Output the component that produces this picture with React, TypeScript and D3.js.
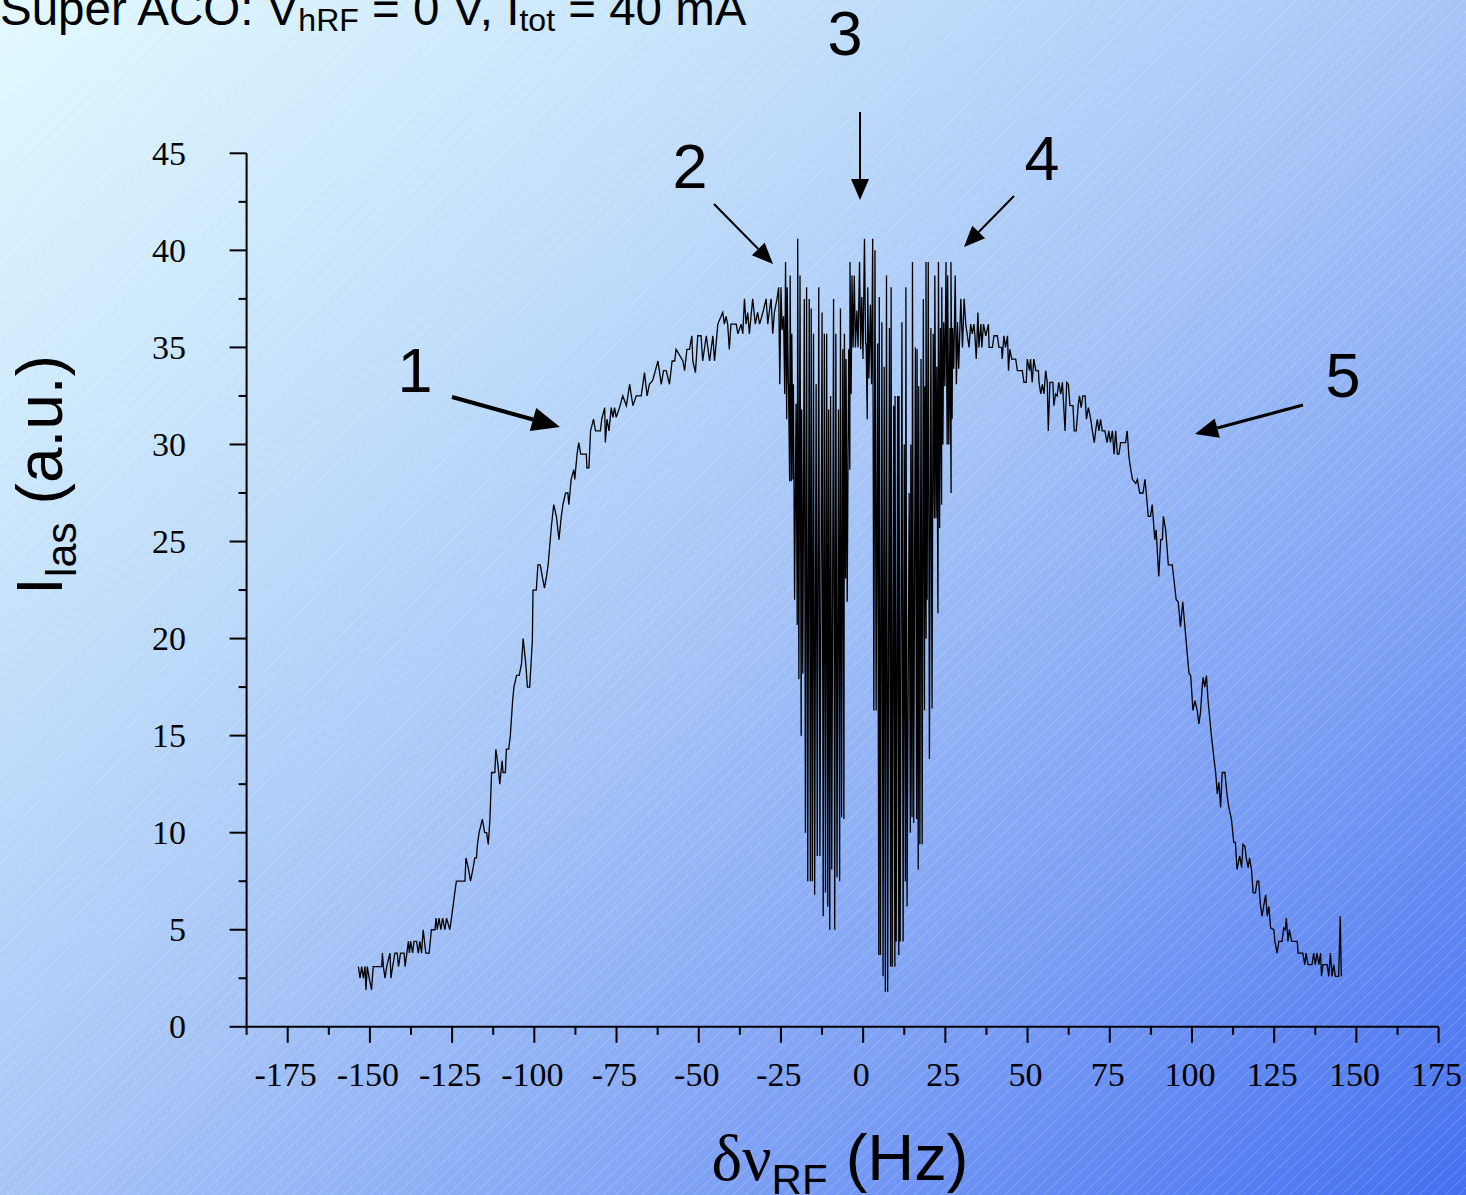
import React from 'react';
import * as d3 from 'd3';

const W = 1466;
const H = 1195;

// Axis ticks
const xTickValues = [-175, -150, -125, -100, -75, -50, -25, 0, 25, 50, 75, 100, 125, 150, 175];
const yTickValues = [0, 5, 10, 15, 20, 25, 30, 35, 40, 45];

// Left wing of the laser intensity curve: [delta nu (Hz), I_las (a.u.)]
const leftWing: [number, number][] = [
  [-153.5, 3.1], [-153.0, 2.5], [-152.5, 3.1], [-152.0, 2.5], [-151.5, 3.1], [-151.2, 1.9], [-150.8, 3.1],
  [-150.2, 2.5], [-149.5, 1.9], [-149.0, 3.1], [-146.4, 3.1], [-146.2, 3.8], [-145.9, 3.1], [-145.4, 2.5],
  [-144.9, 3.1], [-143.9, 3.8], [-143.6, 2.5], [-143.1, 3.1], [-142.4, 3.8], [-141.7, 3.8], [-141.3, 3.1],
  [-140.7, 3.8], [-139.6, 3.8], [-139.3, 3.1], [-138.3, 4.4], [-138.0, 3.8], [-137.6, 4.4], [-137.0, 3.8],
  [-136.6, 4.4], [-135.8, 4.4], [-135.3, 3.8], [-134.8, 4.4], [-134.3, 3.8], [-133.8, 5.0], [-133.0, 3.8],
  [-132.0, 3.8], [-131.3, 5.0], [-130.2, 5.0], [-129.9, 5.6], [-129.5, 5.0], [-129.0, 5.6], [-128.4, 5.0],
  [-127.9, 5.6], [-127.2, 5.0], [-126.7, 5.6], [-125.7, 5.0], [-125.2, 5.6], [-124.2, 6.9], [-123.7, 7.5],
  [-122.4, 7.5], [-121.1, 7.5], [-120.8, 8.7], [-120.1, 8.2], [-119.4, 7.5], [-118.6, 8.2], [-118.1, 8.7],
  [-117.6, 8.7], [-117.3, 9.4], [-116.8, 10.0], [-115.8, 10.7], [-115.1, 10.0], [-114.5, 10.0], [-114.0, 9.4],
  [-113.5, 10.7], [-113.0, 13.1], [-112.0, 13.1], [-111.7, 14.3], [-111.0, 13.4], [-110.5, 12.5], [-109.8, 13.7],
  [-109.5, 13.1], [-108.8, 13.1], [-108.5, 14.3], [-107.8, 14.3], [-107.3, 15.0], [-106.6, 16.8], [-106.2, 17.5],
  [-105.4, 18.1], [-104.6, 18.1], [-103.9, 18.7], [-103.4, 20.0], [-102.6, 18.7], [-102.1, 17.5], [-101.4, 17.5],
  [-100.6, 19.9], [-100.4, 22.5], [-99.4, 22.5], [-98.9, 23.8], [-98.2, 23.8], [-97.6, 23.2], [-96.9, 22.6],
  [-96.3, 23.2], [-95.8, 23.8], [-94.8, 25.8], [-94.1, 26.9], [-93.3, 26.3], [-92.5, 25.1], [-91.8, 26.3],
  [-91.3, 26.9], [-90.5, 27.5], [-89.8, 27.5], [-89.5, 26.9], [-88.8, 28.2], [-88.0, 28.7], [-87.7, 28.2],
  [-87.0, 29.5], [-86.5, 30.1], [-85.9, 29.5], [-84.2, 29.5], [-84.0, 28.8], [-83.4, 28.8], [-82.9, 30.7],
  [-82.0, 31.3], [-81.4, 30.7], [-79.9, 30.7], [-79.5, 31.3], [-78.6, 31.9], [-78.4, 30.1], [-77.9, 31.3],
  [-77.3, 30.7], [-76.6, 31.9], [-76.1, 31.4], [-75.6, 31.9], [-75.1, 31.4], [-74.1, 31.9], [-73.1, 32.5],
  [-72.0, 32.0], [-71.0, 33.1], [-70.5, 32.5], [-70.0, 32.0], [-69.0, 32.5], [-67.5, 32.5], [-67.0, 33.1],
  [-66.5, 33.7], [-65.7, 32.5], [-65.0, 33.1], [-64.0, 33.3], [-62.4, 34.3], [-61.4, 33.1], [-60.7, 33.8],
  [-59.9, 33.8], [-58.9, 33.1], [-58.1, 34.3], [-57.3, 34.3], [-56.9, 34.9], [-54.8, 34.3], [-54.3, 33.8],
  [-53.6, 34.9], [-52.8, 34.9], [-52.1, 35.6], [-51.8, 34.3], [-51.0, 33.7], [-50.3, 35.6], [-49.3, 35.6],
  [-48.8, 34.3], [-47.7, 35.6], [-46.7, 34.3], [-45.7, 35.6], [-45.2, 34.3], [-44.5, 35.6], [-44.2, 36.2],
  [-42.7, 36.8], [-42.2, 36.2], [-41.7, 36.6], [-41.2, 36.2], [-40.7, 34.9], [-40.2, 36.2], [-38.6, 36.2],
  [-38.1, 35.7], [-37.1, 36.2], [-36.6, 35.7], [-36.1, 37.5], [-35.6, 36.2], [-35.1, 36.8], [-34.6, 35.7],
  [-33.6, 37.5], [-32.8, 36.2], [-32.1, 36.8], [-31.5, 36.2], [-30.5, 36.8], [-29.5, 37.5], [-29.0, 36.2],
  [-28.5, 36.9], [-28.0, 37.5], [-27.5, 35.7], [-27.0, 36.8], [-26.2, 37.5],
];

// Oscillating region, left part: [delta nu, peak, trough]
const leftBurst: [number, number, number][] = [
  [-25.7, 38.1, 33.1], [-25.0, 38.1, 35.9], [-24.2, 36.6, 32.6], [-23.6, 39.4, 31.3], [-23.1, 38.1, 33.1],
  [-22.7, 33.1, 28.1], [-22.2, 38.7, 28.1], [-21.7, 35.7, 28.2], [-21.2, 33.1, 22.0], [-20.4, 32.1, 20.7],
  [-19.9, 40.6, 17.9], [-19.2, 38.7, 15.0], [-18.7, 31.8, 18.2], [-17.9, 37.5, 10.0], [-17.2, 38.1, 7.5],
  [-16.4, 37.5, 7.5], [-15.8, 37.0, 7.5], [-15.1, 35.7, 6.8], [-14.3, 33.1, 8.8], [-13.5, 38.1, 8.8],
  [-12.5, 36.8, 5.7], [-11.8, 35.7, 6.9], [-11.1, 35.7, 6.2], [-10.5, 31.8, 5.0], [-9.9, 32.5, 8.1],
  [-9.0, 37.5, 5.0], [-8.3, 35.7, 7.7], [-7.5, 31.8, 7.5], [-6.9, 37.0, 10.8], [-6.2, 34.9, 10.7],
  [-5.7, 35.7, 23.1], [-5.2, 34.4, 21.9], [-4.4, 34.9, 28.7], [-4.0, 39.4, 32.6], [-3.4, 38.7, 35.0],
];

// Oscillating region, centre and right part: [delta nu, peak, trough]
const rightBurst: [number, number, number][] = [
  [-2.7, 38.7, 35.0], [-1.9, 36.9, 35.0], [-1.1, 39.4, 34.9], [-0.4, 37.6, 34.4], [0.4, 40.6, 35.2],
  [0.9, 35.2, 31.3], [1.4, 38.1, 33.4], [2.2, 37.2, 33.1], [2.9, 40.6, 16.3], [3.6, 40.0, 16.3],
  [4.4, 35.2, 3.7], [4.9, 37.6, 3.7], [5.7, 36.3, 2.6], [6.4, 34.0, 1.8], [7.1, 38.7, 1.8],
  [8.0, 36.0, 3.1], [8.5, 38.1, 3.1], [9.3, 32.0, 3.1], [9.7, 32.5, 4.4], [10.5, 32.5, 3.7],
  [10.9, 32.5, 4.4], [11.8, 36.3, 4.4], [12.5, 30.0, 7.5], [13.0, 38.1, 6.2], [14.0, 27.5, 10.0],
  [14.5, 30.0, 10.8], [15.0, 39.4, 10.5], [15.9, 35.0, 10.7], [16.4, 34.9, 8.1], [16.9, 33.0, 9.4],
  [17.6, 34.4, 9.4], [18.3, 37.5, 16.3], [18.8, 33.0, 20.0], [19.1, 39.4, 22.0], [19.8, 39.4, 13.8],
  [20.6, 36.0, 16.4], [21.3, 35.7, 26.2], [21.8, 38.7, 26.2], [22.4, 34.0, 21.3], [22.9, 39.4, 25.7],
  [23.5, 36.0, 26.9], [23.9, 38.1, 30.0], [24.5, 36.3, 33.0], [25.2, 39.4, 30.0], [25.7, 38.7, 30.0],
  [26.4, 36.0, 27.5], [26.7, 39.4, 31.3], [27.2, 36.0, 33.9], [28.0, 38.7, 33.1], [28.7, 36.3, 33.9],
];

// Right wing: [delta nu, I_las]
const rightWing: [number, number][] = [
  [29.7, 37.5], [30.2, 35.0], [30.7, 37.5], [31.2, 36.2], [31.7, 35.6], [32.2, 35.0], [32.7, 36.2],
  [33.2, 35.7], [33.7, 36.2], [34.0, 35.6], [34.4, 34.4], [34.9, 36.8], [35.2, 35.0], [35.8, 36.2],
  [36.1, 35.0], [36.6, 36.2], [37.3, 35.6], [38.1, 36.2], [38.3, 35.0], [39.3, 35.0], [39.8, 35.6],
  [40.8, 35.6], [41.3, 35.0], [42.1, 35.0], [42.3, 34.4], [42.8, 35.6], [43.3, 35.0], [43.9, 35.6],
  [44.2, 33.8], [44.6, 34.9], [45.2, 34.4], [46.4, 34.4], [46.9, 33.8], [48.4, 33.8], [48.9, 33.2],
  [49.6, 33.2], [49.9, 34.4], [50.6, 33.8], [50.9, 34.4], [51.4, 33.2], [51.9, 34.4], [52.5, 33.8],
  [53.3, 33.8], [53.5, 33.2], [54.0, 32.6], [54.5, 33.1], [55.0, 32.6], [55.5, 33.8], [56.0, 33.2],
  [56.3, 30.7], [56.8, 33.2], [57.7, 33.2], [58.0, 32.0], [58.5, 32.6], [59.0, 32.5], [59.5, 33.2],
  [60.1, 32.6], [60.6, 33.2], [61.4, 30.7], [61.9, 33.2], [62.4, 33.1], [62.9, 32.0], [63.8, 32.0],
  [64.2, 30.7], [64.8, 30.7], [65.4, 32.0], [65.8, 32.5], [66.3, 31.9], [66.8, 32.5], [67.5, 32.5],
  [67.9, 31.3], [68.5, 31.9], [69.2, 31.3], [69.7, 30.7], [70.3, 30.1], [70.7, 30.7], [71.2, 31.3],
  [71.7, 30.7], [72.2, 31.3], [72.7, 30.7], [73.5, 30.7], [74.2, 30.1], [74.7, 30.7], [75.2, 30.1],
  [75.8, 30.7], [76.3, 29.5], [76.8, 30.7], [77.3, 29.5], [77.8, 29.5], [78.3, 30.1], [79.8, 30.1],
  [80.3, 30.7], [80.8, 29.4], [81.3, 28.8], [81.9, 28.2], [82.9, 28.0], [83.4, 28.2], [84.1, 27.5],
  [85.1, 27.5], [85.7, 28.2], [86.1, 27.5], [86.7, 26.3], [87.4, 26.3], [87.9, 26.9], [88.7, 25.1],
  [89.1, 25.6], [89.9, 23.2], [90.5, 25.1], [91.0, 25.1], [91.3, 26.3], [92.0, 25.6], [92.8, 23.8],
  [94.0, 23.8], [95.2, 22.0], [95.8, 21.9], [96.5, 20.6], [97.2, 21.9], [98.1, 20.1], [99.1, 18.2],
  [99.6, 18.1], [100.3, 16.3], [100.9, 16.8], [101.6, 16.3], [102.1, 15.6], [102.6, 16.2], [103.1, 17.5],
  [103.4, 18.0], [103.9, 17.5], [104.4, 18.1], [104.9, 16.8], [105.9, 15.0], [106.7, 13.8], [107.2, 13.1],
  [107.7, 12.0], [108.2, 12.6], [108.7, 11.3], [109.2, 13.1], [110.0, 13.1], [110.7, 11.9], [111.2, 11.3],
  [112.0, 10.7], [112.7, 9.5], [113.2, 9.5], [113.7, 8.1], [114.5, 8.8], [115.1, 8.2], [115.5, 9.4],
  [116.1, 9.3], [116.5, 8.7], [117.1, 8.2], [117.5, 8.7], [118.1, 8.1], [118.6, 6.9], [119.3, 6.9],
  [119.8, 7.5], [120.3, 7.5], [120.8, 6.3], [121.3, 5.7], [121.8, 6.2], [122.4, 6.8], [122.9, 5.7],
  [123.4, 6.2], [123.9, 5.1], [124.9, 5.0], [125.2, 4.4], [125.9, 3.8], [126.4, 4.4], [127.4, 4.4],
  [127.9, 5.1], [128.4, 5.0], [128.7, 5.6], [129.2, 4.4], [129.6, 5.0], [130.3, 4.4], [132.0, 4.4],
  [132.3, 3.8], [133.7, 3.8], [134.3, 3.2], [134.7, 3.8], [135.3, 3.2], [136.5, 3.2], [137.0, 3.8],
  [137.5, 3.2], [138.0, 3.8], [138.6, 3.2], [139.1, 3.8], [139.4, 2.6], [139.8, 3.2], [140.4, 3.2],
  [141.1, 3.2], [141.6, 2.6], [142.1, 3.8], [142.6, 2.6], [143.1, 3.2], [143.6, 2.6], [144.6, 2.6],
  [145.1, 5.7], [145.4, 2.6],
];

function burstPoints(b: [number, number, number][]): [number, number][] {
  const out: [number, number][] = [];
  b.forEach(([f, hi, lo]) => {
    out.push([f, hi]);
    out.push([f + 0.35, lo]);
  });
  return out;
}

type Arrow = { x1: number; y1: number; x2: number; y2: number; w: number; hl: number; hw: number };

const arrows: Arrow[] = [
  { x1: 452, y1: 397, x2: 560, y2: 427, w: 4, hl: 28, hw: 12 },
  { x1: 714, y1: 204, x2: 773, y2: 264, w: 2, hl: 21, hw: 9 },
  { x1: 860, y1: 112, x2: 860, y2: 200, w: 2, hl: 21, hw: 9 },
  { x1: 1014, y1: 196, x2: 964, y2: 247, w: 2, hl: 21, hw: 9 },
  { x1: 1303, y1: 405, x2: 1195, y2: 434, w: 3, hl: 23, hw: 10 },
];

const numLabels = [
  { t: '1', x: 415, y: 392 },
  { t: '2', x: 690, y: 188 },
  { t: '3', x: 845, y: 55 },
  { t: '4', x: 1042, y: 180 },
  { t: '5', x: 1343, y: 397 },
];

export default function App() {
  const x = d3.scaleLinear().domain([-187.5, 175]).range([246.6, 1438.6]);
  const y = d3.scaleLinear().domain([0, 45]).range([1026.8, 153.3]);

  const pts: [number, number][] = [
    ...leftWing,
    ...burstPoints(leftBurst),
    ...burstPoints(rightBurst),
    ...rightWing,
  ];
  const line = d3
    .line<[number, number]>()
    .x((d) => x(d[0]))
    .y((d) => y(d[1]));

  const xMinor = d3.range(-187.5, 175.01, 12.5).filter((v) => !xTickValues.includes(v));
  const yMinor = d3.range(2.5, 45, 5);

  const sans = "'Liberation Sans', Arial, sans-serif";
  const serif = "'Liberation Serif', 'Times New Roman', serif";

  const x0 = x(-187.5);
  const x1 = x(175);
  const yb = y(0);
  const yt = y(45);

  return (
    <svg
      width={W}
      height={H}
      viewBox={`0 0 ${W} ${H}`}
      style={{ position: 'absolute', left: 0, top: 0, display: 'block' }}
    >
      <defs>
        <linearGradient id="bg" x1="0" y1="0" x2="1" y2="1">
          <stop offset="0" stopColor="#e2f9ff" />
          <stop offset="0.25" stopColor="#c6e3fb" />
          <stop offset="0.5" stopColor="#a6c5f7" />
          <stop offset="0.75" stopColor="#7c9ff4" />
          <stop offset="1" stopColor="#4470f0" />
        </linearGradient>
        <pattern
          id="hatch"
          width="12"
          height="9"
          patternUnits="userSpaceOnUse"
          patternTransform="rotate(-44)"
        >
          <line x1="0" y1="0.5" x2="12" y2="0.5" stroke="#ffffff" strokeOpacity="0.2" strokeWidth="0.9" />
        </pattern>
      </defs>
      <rect x={0} y={0} width={W} height={H} fill="url(#bg)" />
      <rect x={0} y={0} width={W} height={H} fill="url(#hatch)" />

      {/* Title */}
      <text x={0} y={25} fontFamily={sans} fontSize={47.5} fill="#000">
        {'Super ACO: V'}
        <tspan fontSize={32} dy={6}>
          hRF
        </tspan>
        <tspan dy={-6}>{' = 0 V, I'}</tspan>
        <tspan fontSize={32} dy={6}>
          tot
        </tspan>
        <tspan dy={-6}>{' = 40 mA'}</tspan>
      </text>

      {/* Axes */}
      <g stroke="#000" strokeWidth={2} fill="none">
        <line x1={x0} y1={yb} x2={x1} y2={yb} />
        <line x1={x0} y1={yb + 1} x2={x0} y2={yt} />
        {xTickValues.map((v) => (
          <line key={'xt' + v} x1={x(v)} y1={yb} x2={x(v)} y2={yb + 16} />
        ))}
        {xMinor.map((v) => (
          <line key={'xm' + v} x1={x(v)} y1={yb} x2={x(v)} y2={yb + 8} />
        ))}
        {yTickValues.map((v) => (
          <line key={'yt' + v} x1={x0} y1={y(v)} x2={x0 - 17} y2={y(v)} />
        ))}
        {yMinor.map((v) => (
          <line key={'ym' + v} x1={x0} y1={y(v)} x2={x0 - 8} y2={y(v)} />
        ))}
      </g>
      <g fontFamily={serif} fontSize={34} fill="#000">
        {xTickValues.map((v) => (
          <text key={'xl' + v} x={x(v) - 2} y={1086} textAnchor="middle">
            {String(v)}
          </text>
        ))}
        {yTickValues.map((v) => (
          <text key={'yl' + v} x={186} y={y(v) + 11.5} textAnchor="end">
            {String(v)}
          </text>
        ))}
      </g>

      {/* Data curve */}
      <path d={line(pts) || ''} fill="none" stroke="#000" strokeWidth={1.3} />

      {/* Axis titles */}
      <text
        transform="translate(62,475) rotate(-90)"
        textAnchor="middle"
        fontFamily={sans}
        fontSize={64}
        fill="#000"
      >
        I
        <tspan fontSize={43} dy={14}>
          las
        </tspan>
        <tspan dy={-14}>{' (a.u.)'}</tspan>
      </text>
      <text x={840} y={1180} textAnchor="middle" fontFamily={sans} fontSize={65} fill="#000">
        <tspan fontFamily={serif}>δν</tspan>
        <tspan fontSize={42} dy={14}>
          RF
        </tspan>
        <tspan dy={-14}>{' (Hz)'}</tspan>
      </text>

      {/* Annotations */}
      {arrows.map((a, i) => {
        const ang = Math.atan2(a.y2 - a.y1, a.x2 - a.x1);
        const bx = a.x2 - a.hl * Math.cos(ang);
        const by = a.y2 - a.hl * Math.sin(ang);
        const px = -Math.sin(ang) * a.hw;
        const py = Math.cos(ang) * a.hw;
        return (
          <g key={'ar' + i}>
            <line x1={a.x1} y1={a.y1} x2={bx} y2={by} stroke="#000" strokeWidth={a.w} />
            <polygon
              points={`${a.x2},${a.y2} ${bx + px},${by + py} ${bx - px},${by - py}`}
              fill="#000"
            />
          </g>
        );
      })}
      {numLabels.map((n) => (
        <text key={'n' + n.t} x={n.x} y={n.y} textAnchor="middle" fontFamily={sans} fontSize={63} fill="#000">
          {n.t}
        </text>
      ))}
    </svg>
  );
}
